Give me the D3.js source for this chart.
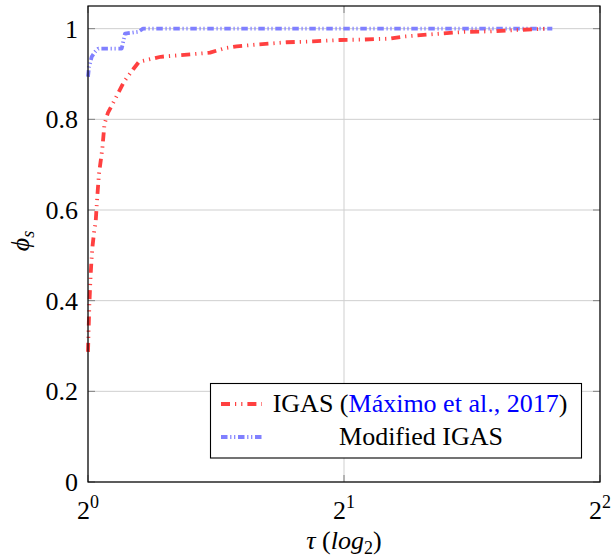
<!DOCTYPE html>
<html>
<head>
<meta charset="utf-8">
<script src="https://cdn.jsdelivr.net/npm/d3@7"></script>
</head>
<body style="margin:0">
<svg id="chart" width="611" height="557"></svg>
<script>
// Performance profile: fraction of solved instances phi_s against ratio tau (log2 axis)
const igasTau = [1.0000, 1.0014, 1.0041, 1.0068, 1.0095, 1.0123, 1.0164, 1.0211, 1.0255, 1.0302,
                 1.0395, 1.0457, 1.0557, 1.0729, 1.1023, 1.1296, 1.1481, 1.2176, 1.3914, 1.4490,
                 1.4957, 1.5790, 1.7125, 1.8389, 1.9785, 2.1057, 2.2653, 2.3594, 2.5937, 2.7752,
                 2.9697, 3.1926, 3.4655];
const igasPhi = [0.287, 0.330, 0.400, 0.450, 0.490, 0.520, 0.550, 0.575, 0.630, 0.680,
                 0.735, 0.790, 0.815, 0.840, 0.883, 0.910, 0.927, 0.938, 0.947, 0.957,
                 0.961, 0.965, 0.970, 0.972, 0.975, 0.976, 0.978, 0.983, 0.989, 0.993,
                 0.994, 0.997, 1.000];

const modTau = [1.0000, 1.0027, 1.0101, 1.0191, 1.0283, 1.0955, 1.1053, 1.1458, 1.1606, 3.5155];
const modPhi = [0.894, 0.915, 0.938, 0.949, 0.956, 0.956, 0.989, 0.993, 1.000, 1.000];

const yTicks = [0, 0.2, 0.4, 0.6, 0.8, 1];
const yTickLabels = ["0", "0.2", "0.4", "0.6", "0.8", "1"];
const xTicks = [1, 2, 4];
const xTickExp = ["0", "1", "2"];

const seriesNames = ["IGAS", "Modified IGAS"];
const citeText = "Máximo et al., 2017";

const red = "rgb(255,64,64)";
const blue = "rgb(128,128,255)";
const redDash = "9,5,1.2,5,1.2,5";
const blueDash = "6.5,2.7,1.2,2.7,1.2,2.7";
const face = "'Liberation Serif'";

const svg = d3.select("#chart").style("font-family", face);
const pL = 88, pR = 600, pT = 6, pB = 482;

const x = d3.scaleLog().base(2).domain([1, 4]).range([pL, pR]);
const y = d3.scaleLinear().domain([0, 1.05]).range([pB, pT]);

// grid
const grid = svg.append("g").attr("stroke", "#cfcfcf").attr("stroke-width", 1);
grid.selectAll(".gy").data(yTicks).join("line")
  .attr("x1", pL).attr("x2", pR)
  .attr("y1", d => y(d)).attr("y2", d => y(d));
grid.selectAll(".gx").data(xTicks).join("line")
  .attr("x1", d => x(d)).attr("x2", d => x(d))
  .attr("y1", pT).attr("y2", pB);

// inward tick marks on all four sides
const tk = svg.append("g").attr("stroke", "#808080").attr("stroke-width", 1);
const tl = 7;
yTicks.forEach(v => {
  tk.append("line").attr("x1", pL).attr("x2", pL + tl).attr("y1", y(v)).attr("y2", y(v));
  tk.append("line").attr("x1", pR - tl).attr("x2", pR).attr("y1", y(v)).attr("y2", y(v));
});
xTicks.forEach(v => {
  tk.append("line").attr("x1", x(v)).attr("x2", x(v)).attr("y1", pB - tl).attr("y2", pB);
  tk.append("line").attr("x1", x(v)).attr("x2", x(v)).attr("y1", pT).attr("y2", pT + tl);
});

// curves
const line = d3.line().x(d => x(d[0])).y(d => y(d[1]));
svg.append("path")
  .datum(d3.zip(modTau, modPhi))
  .attr("d", line)
  .attr("fill", "none").attr("stroke", blue).attr("stroke-width", 3.8)
  .attr("stroke-dasharray", blueDash).attr("stroke-linejoin", "round");
svg.append("path")
  .datum(d3.zip(igasTau, igasPhi))
  .attr("d", line)
  .attr("fill", "none").attr("stroke", red).attr("stroke-width", 3.8)
  .attr("stroke-dasharray", redDash).attr("stroke-linejoin", "round");

// frame
svg.append("rect")
  .attr("x", pL).attr("y", pT).attr("width", pR - pL).attr("height", pB - pT)
  .attr("fill", "none").attr("stroke", "#000").attr("stroke-width", 1.2);

// y tick labels
yTicks.forEach((v, i) => {
  svg.append("text").attr("x", pL - 10).attr("y", y(v) + 9)
    .attr("text-anchor", "end").attr("font-size", 26)
    .style("font-family", face).text(yTickLabels[i]);
});

// x tick labels as powers of two
xTicks.forEach((v, i) => {
  const t = svg.append("text").attr("x", x(v)).attr("y", pB + 37)
    .attr("text-anchor", "middle").attr("font-size", 26).style("font-family", face);
  t.append("tspan").text("2");
  t.append("tspan").attr("font-size", 18).attr("dy", -11).text(xTickExp[i]);
});

// axis titles
const xt = svg.append("text").attr("x", 344).attr("y", 549)
  .attr("text-anchor", "middle").attr("font-size", 26).style("font-family", face);
xt.append("tspan").attr("font-style", "italic").text("τ");
xt.append("tspan").text(" (");
xt.append("tspan").attr("font-style", "italic").text("log");
xt.append("tspan").attr("font-size", 18).attr("dy", 5).text("2");
xt.append("tspan").attr("dy", -5).text(")");

const yt = svg.append("text").attr("transform", "translate(29,241) rotate(-90)")
  .attr("text-anchor", "middle").attr("font-size", 26).style("font-family", face);
yt.append("tspan").attr("font-style", "italic").text("ϕ");
yt.append("tspan").attr("font-style", "italic").attr("font-size", 18).attr("dy", 5).text("s");

// legend
svg.append("rect").attr("x", 210.5).attr("y", 383.5).attr("width", 371).attr("height", 74.5)
  .attr("fill", "#fff").attr("stroke", "#000").attr("stroke-width", 1.1);
svg.append("line").attr("x1", 221).attr("x2", 262).attr("y1", 404).attr("y2", 404)
  .attr("stroke", red).attr("stroke-width", 3.8).attr("stroke-dasharray", redDash);
svg.append("line").attr("x1", 221).attr("x2", 264).attr("y1", 437).attr("y2", 437)
  .attr("stroke", blue).attr("stroke-width", 3.8).attr("stroke-dasharray", blueDash);

const l1 = svg.append("text").attr("x", 420).attr("y", 412).attr("text-anchor", "middle")
  .attr("font-size", 26).style("font-family", face);
l1.append("tspan").text(seriesNames[0] + " (");
l1.append("tspan").attr("fill", "#0000ff").text(citeText);
l1.append("tspan").text(")");
svg.append("text").attr("x", 421).attr("y", 445).attr("text-anchor", "middle")
  .attr("font-size", 26).style("font-family", face).text(seriesNames[1]);
</script>
</body>
</html>
